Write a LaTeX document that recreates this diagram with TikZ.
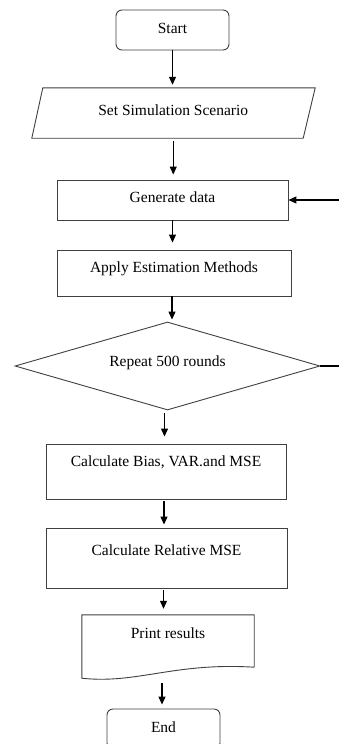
\documentclass[tikz,border=0pt]{standalone}
\usepackage{fontspec}
\setmainfont{Liberation Serif}
\usetikzlibrary{arrows.meta,shapes.geometric,calc}
\begin{document}
\begin{tikzpicture}[x=1pt,y=-1pt,
  every node/.style={font=\fontsize{15.5}{18}\selectfont, text=black, inner sep=0pt, text height=11pt, text depth=4pt},
  box/.style={draw=black!75, line width=0.9pt, rectangle},
  rbox/.style={box, rounded corners=6pt},
  plain/.style={rectangle},
  dia/.style={draw=black!75, line width=0.9pt, diamond, aspect=3.47},
  arr/.style={-{Triangle[length=8pt,width=7pt]}, line width=1.1pt, black},
  ln/.style={line width=1.1pt, black},
  shp/.style={draw=black!75, line width=0.9pt}
]
\useasboundingbox (0,0) rectangle (339,744);
\fill[white] (0,0) rectangle (339,744);

\node[rbox, minimum width=113pt, minimum height=40pt] (st) at (172.5,30) {Start};
\node[plain, minimum width=271.5pt, minimum height=50pt, text depth=6pt] (ss) at (173.25,113) {Set Simulation Scenario};
\draw[shp] ($(ss.south west)+(-5.5,0)$) -- ($(ss.north west)+(5.5,0)$) -- ($(ss.north east)+(6,0)$) -- ($(ss.south east)+(-6,0)$) -- cycle;
\node[box, minimum width=231pt, minimum height=40pt, text depth=6pt] (gen) at (172.5,200) {Generate data};
\node[box, minimum width=234pt, minimum height=46pt, text depth=12pt] (app) at (174,273) {Apply Estimation Methods};
\node[dia, minimum width=305pt, minimum height=88pt, text depth=10pt] (rep) at (167.5,366) {Repeat 500 rounds};
\node[box, minimum width=240pt, minimum height=55pt, text depth=21pt] (bias) at (166,471.5) {Calculate Bias, VAR.and MSE\hspace{15pt}};
\node[box, minimum width=241pt, minimum height=60pt, text depth=16pt] (rel) at (166.5,558) {Calculate Relative MSE};
\node[plain, minimum width=172pt, minimum height=53pt, text depth=17pt] (pr) at (168,641.5) {Print results};
\draw[shp] ($(pr.south east)+(0,-1)$) -- (pr.north east) -- (pr.north west) -- ($(pr.south west)+(0,10)$)
  .. controls ($(pr.south west)+(55,16)$) and ($(pr.south east)+(-80,-6)$) .. ($(pr.south east)+(0,-1)$);
\node[rbox, minimum width=113pt, minimum height=40pt] (en) at (163.5,729) {End};

\coordinate (e1) at (345,366);
\coordinate (e2) at (345,200);
\coordinate (prb) at (162,683);

\draw[arr, shorten >=3pt] (st.south) -- (st.south |- ss.north);
\draw[arr, shorten <=3pt, shorten >=5pt] (ss.south) -- (ss.south |- gen.north);
\draw[arr, shorten >=7pt] (gen.south) -- (gen.south |- app.north);
\draw[arr, shorten >=2pt] ([xshift=-2pt]app.south) -- ([xshift=-2pt]app.south |- rep.north);
\draw[arr, shorten <=3pt, shorten >=7pt] ([xshift=-3pt]rep.south) -- ([xshift=-3pt]rep.south |- bias.north);
\draw[arr, shorten <=2pt, shorten >=3pt] ([xshift=-2pt]bias.south) -- ([xshift=-2pt]bias.south |- rel.north);
\draw[arr, shorten <=2pt, shorten >=6pt] ([xshift=-3pt]rel.south) -- ([xshift=-3pt]rel.south |- pr.north);
\draw[arr, shorten >=4pt] (prb) -- (prb |- en.north);

\draw[ln] (rep.east) -- (e1);
\draw[arr] (e2) -- (gen.east |- e2);
\end{tikzpicture}
\end{document}
